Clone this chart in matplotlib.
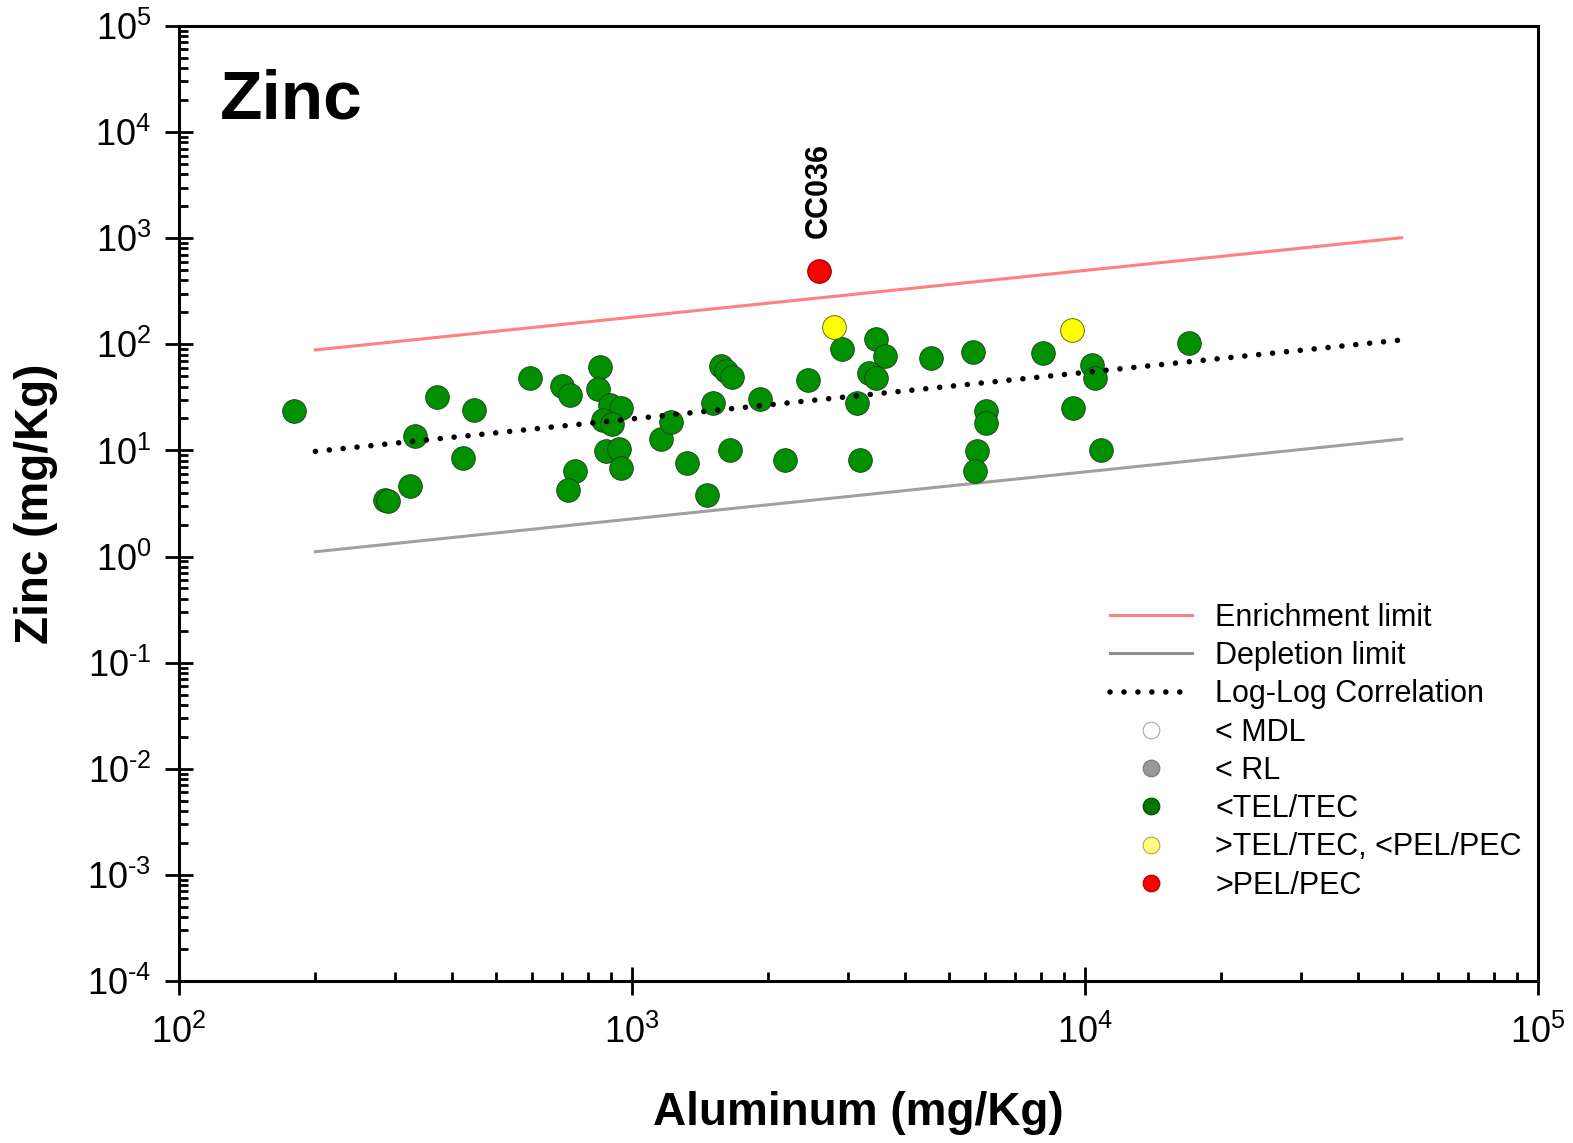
import numpy as np
import matplotlib
matplotlib.use('Agg')
from matplotlib import pyplot as plt
from matplotlib.lines import Line2D
from matplotlib.ticker import LogLocator, FuncFormatter, NullFormatter

plt.rcParams['font.family'] = ['Liberation Sans', 'DejaVu Sans']
plt.rcParams['mathtext.fontset'] = 'custom'
plt.rcParams['mathtext.rm'] = 'Liberation Sans'
plt.rcParams['mathtext.default'] = 'regular'

# 数据：Al / Zn 浓度 (mg/Kg)
al_green = [179, 285, 290, 324, 332, 372, 424, 449, 596, 702, 729, 748, 724,
            848, 840, 896, 944, 861, 901, 876, 934, 944, 1156, 1218, 1320,
            1464, 1512, 1575, 1616, 1664, 1648, 1919, 2180, 2445, 2900, 3452,
            3620, 4576, 5670, 8055, 16930, 3340, 3448, 10345, 10544, 3140,
            6040, 6040, 9425, 3189, 5783, 5716, 10844]
zn_green = [23.5, 3.44, 3.31, 4.66, 13.6, 31.8, 8.44, 24.1, 48.4, 40.4, 33.2,
            6.36, 4.24, 61.5, 37.9, 26.6, 24.9, 19.4, 17.9, 9.98, 10.3, 6.83,
            12.8, 18.4, 7.57, 3.80, 28.1, 62.5, 56.1, 49.2, 10.2, 30.5, 8.2,
            45.8, 91, 111.7, 77.7, 74.4, 85.3, 82.4, 103.8, 54, 48.4, 63.9,
            48.4, 27.8, 23.5, 18.2, 24.9, 8.2, 9.98, 6.36, 10.0]
al_yellow = [2791, 9376]
zn_yellow = [146, 135.9]
al_red = [2587]
zn_red = [486]
red_label = 'CC036'

# 趋势线端点
line_al = [200, 50000]
enrich_zn = [88.5, 1010]
deplete_zn = [1.11, 12.8]
corr_zn = [9.8, 110]

green = '#009000'
fig = plt.figure(figsize=(15.73, 11.43), dpi=100)
ax = fig.add_axes([0.1138, 0.1417, 0.864, 0.8356])

ax.plot(line_al, enrich_zn, color='#ff8080', lw=2.2, zorder=2)
ax.plot(line_al, deplete_zn, color='#a0a0a0', lw=2.2, zorder=2)
ax.plot(line_al, corr_zn, color='black', lw=4, linestyle=(0, (0.01, 2.5)),
        dash_capstyle='round', zorder=4)

ax.scatter(al_green, zn_green, s=290, c=green, edgecolors='#1a3a1a', linewidths=0.6, zorder=3)
ax.scatter(al_yellow, zn_yellow, s=290, c='#ffff00', edgecolors='#555500', linewidths=0.6, zorder=3)
ax.scatter(al_red, zn_red, s=290, c='#ff0000', edgecolors='#550000', linewidths=0.6, zorder=3)

ax.annotate(red_label, xy=(al_red[0], zn_red[0]), xytext=(0, 24), textcoords='offset points',
            rotation=90, ha='center', va='bottom', fontsize=22, fontweight='bold')

ax.set_xscale('log')
ax.set_yscale('log')
ax.set_xlim(1e2, 1e5)
ax.set_ylim(1e-4, 1e5)

# 刻度标签 10^n，负号用短横线
def pow_fmt(v, p):
    e = int(round(np.log10(v)))
    s = str(abs(e)) if e >= 0 else '\u2010' + str(abs(e))
    return r'$10^{%s}$' % s

fmt = FuncFormatter(pow_fmt)
ax.xaxis.set_major_locator(LogLocator(base=10, numticks=20))
ax.yaxis.set_major_locator(LogLocator(base=10, numticks=20))
ax.xaxis.set_minor_locator(LogLocator(base=10, subs=np.arange(2, 10), numticks=20))
ax.yaxis.set_minor_locator(LogLocator(base=10, subs=np.arange(2, 10), numticks=20))
ax.xaxis.set_major_formatter(fmt)
ax.yaxis.set_major_formatter(fmt)
ax.xaxis.set_minor_formatter(NullFormatter())
ax.yaxis.set_minor_formatter(NullFormatter())

ax.tick_params(which='major', direction='inout', length=20, width=2, labelsize=26)
ax.tick_params(axis='x', which='major', pad=14)
ax.tick_params(axis='y', which='major', pad=10)
ax.tick_params(which='minor', direction='in', length=6.5, width=2)
ax.tick_params(top=False, right=False, which='both')
for sp in ax.spines.values():
    sp.set_linewidth(2.2)

ax.set_xlabel('Aluminum (mg/Kg)', fontsize=33, fontweight='bold')
ax.set_ylabel('Zinc (mg/Kg)', fontsize=33, fontweight='bold')
ax.xaxis.set_label_coords(0.5, -0.115)
ax.yaxis.set_label_coords(-0.089, 0.5)

ax.text(0.030, 0.903, 'Zinc', transform=ax.transAxes, fontsize=50,
        fontweight='bold', ha='left', va='baseline')

handles = [
    Line2D([], [], color='#ff8080', lw=2.2),
    Line2D([], [], color='#909090', lw=2.2),
    Line2D([], [], color='black', lw=4, linestyle=(0, (0.01, 2.5)), dash_capstyle='round'),
    Line2D([], [], marker='o', ls='none', ms=12, mfc='white', mec='#aaaaaa', mew=0.8),
    Line2D([], [], marker='o', ls='none', ms=12, mfc='#999999', mec='#777777', mew=0.8),
    Line2D([], [], marker='o', ls='none', ms=12, mfc='#007800', mec='#004400', mew=0.8),
    Line2D([], [], marker='o', ls='none', ms=12, mfc='#ffff80', mec='#aaaa55', mew=0.8),
    Line2D([], [], marker='o', ls='none', ms=12, mfc='#ff0000', mec='#aa0000', mew=0.8),
]
labels = ['Enrichment limit', 'Depletion limit', 'Log-Log Correlation', '< MDL',
          '< RL', '<TEL/TEC', '>TEL/TEC, <PEL/PEC', '>PEL/PEC']
ax.legend(handles, labels, loc='upper left', bbox_to_anchor=(0.685, 0.396),
          frameon=False, fontsize=22, handlelength=2.7, handletextpad=0.75,
          labelspacing=0.27, borderpad=0, borderaxespad=0)

fig.savefig('out.png', dpi=100)
